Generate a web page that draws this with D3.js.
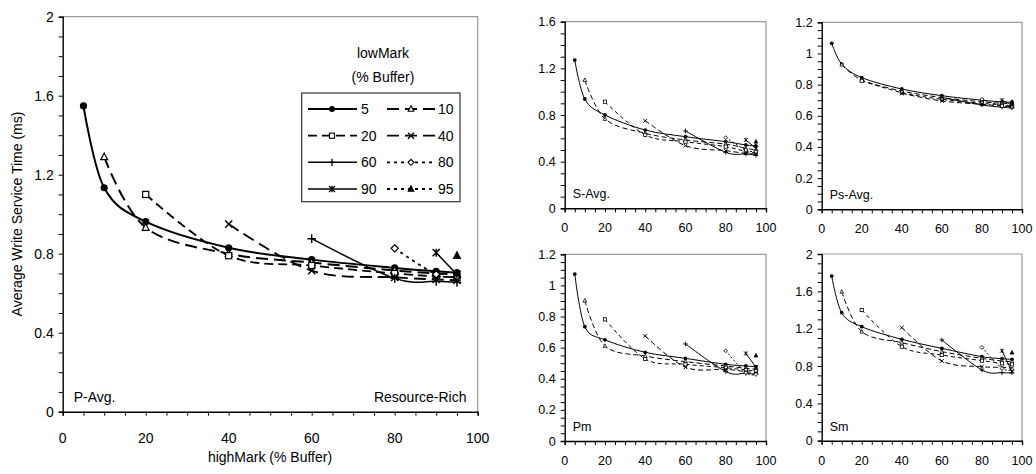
<!DOCTYPE html>
<html>
<head>
<meta charset="utf-8">
<script src="https://cdn.jsdelivr.net/npm/d3@7"></script>
<style>
  html, body { margin: 0; padding: 0; background: #fff; }
  svg { display: block; font-family: "Liberation Sans", Arial, Helvetica, sans-serif; }
  text { fill: #000; }
</style>
</head>
<body>
<svg id="chart" width="1036" height="474"></svg>
<script>
// highMark positions (% buffer) and lowMark series labels
const highMarks = [5, 10, 20, 40, 60, 80, 90, 95];
const lowMarks = [5, 10, 20, 40, 60, 80, 90, 95];

// Average write service time (ms); series i starts at highMarks[i]
const pAvg = [
  [1.548, 1.134, 0.962, 0.830, 0.770, 0.728, 0.711, 0.704],
  [1.290, 0.932, 0.800, 0.755, 0.715, 0.700, 0.695],
  [1.100, 0.790, 0.740, 0.700, 0.685, 0.680],
  [0.950, 0.714, 0.680, 0.670, 0.665],
  [0.876, 0.675, 0.660, 0.655],
  [0.827, 0.695, 0.685],
  [0.805, 0.695],
  [0.790]
];
const sAvg = [
  [1.271, 0.937, 0.800, 0.671, 0.614, 0.571, 0.543, 0.534],
  [1.100, 0.766, 0.643, 0.586, 0.550, 0.514, 0.500],
  [0.914, 0.629, 0.571, 0.529, 0.486, 0.477],
  [0.751, 0.537, 0.494, 0.471, 0.466],
  [0.663, 0.480, 0.466, 0.454],
  [0.606, 0.500, 0.486],
  [0.586, 0.514],
  [0.571]
];
const psAvg = [
  [1.065, 0.932, 0.845, 0.772, 0.729, 0.700, 0.690, 0.687],
  [0.928, 0.830, 0.759, 0.717, 0.690, 0.680, 0.676],
  [0.824, 0.749, 0.706, 0.680, 0.670, 0.665],
  [0.744, 0.695, 0.674, 0.663, 0.659],
  [0.717, 0.670, 0.655, 0.650],
  [0.706, 0.663, 0.659],
  [0.700, 0.670],
  [0.690]
];
const pm = [
  [1.073, 0.735, 0.650, 0.570, 0.531, 0.493, 0.482, 0.478],
  [0.902, 0.611, 0.546, 0.510, 0.482, 0.467, 0.461],
  [0.782, 0.527, 0.493, 0.471, 0.456, 0.450],
  [0.675, 0.474, 0.461, 0.446, 0.439],
  [0.624, 0.446, 0.435, 0.431],
  [0.580, 0.439, 0.428],
  [0.563, 0.474],
  [0.549]
];
const sm = [
  [1.764, 1.371, 1.221, 1.086, 0.989, 0.900, 0.879, 0.871],
  [1.596, 1.168, 1.050, 0.954, 0.882, 0.854, 0.846],
  [1.400, 1.007, 0.918, 0.857, 0.829, 0.818],
  [1.211, 0.854, 0.793, 0.786, 0.775],
  [1.079, 0.757, 0.729, 0.729],
  [1.000, 0.775, 0.764],
  [0.964, 0.739],
  [0.943]
];

// Tick label sets
const xTickLabels = [0, 20, 40, 60, 80, 100];
const pAvgYTicks = [0, 0.4, 0.8, 1.2, 1.6, 2];
const sAvgYTicks = [0, 0.4, 0.8, 1.2, 1.6];
const psAvgYTicks = [0, 0.2, 0.4, 0.6, 0.8, 1, 1.2];
const pmYTicks = [0, 0.2, 0.4, 0.6, 0.8, 1, 1.2];
const smYTicks = [0, 0.4, 0.8, 1.2, 1.6, 2];

// Per-series drawing style: marker shape, dash pattern (main, small), stroke width
const seriesStyle = [
  { marker: "circle",   dash: null,   dashS: null,  w: 2.0 },
  { marker: "triOpen",  dash: "12,6", dashS: "5,3", w: 2.0 },
  { marker: "square",   dash: "9,5",  dashS: "4,3", w: 1.8 },
  { marker: "x",        dash: "12,6", dashS: "5,3", w: 1.8 },
  { marker: "plus",     dash: null,   dashS: null,  w: 1.5 },
  { marker: "diamond",  dash: "3,4",  dashS: "2,2", w: 1.8 },
  { marker: "asterisk", dash: null,   dashS: null,  w: 1.5 },
  { marker: "triFill",  dash: "3,4",  dashS: "2,2", w: 1.8 }
];

const svg = d3.select("#chart");

function drawMarker(g, type, cx, cy, r, sw) {
  const s = g.append("g").attr("transform", `translate(${cx},${cy})`);
  switch (type) {
    case "circle":
      s.append("circle").attr("r", r).attr("fill", "#000");
      break;
    case "triOpen":
    case "triFill":
      s.append("path")
        .attr("d", `M0,${-r * 1.1}L${r * 0.95},${r * 0.75}L${-r * 0.95},${r * 0.75}Z`)
        .attr("fill", type === "triFill" ? "#000" : "#fff")
        .attr("stroke", "#000").attr("stroke-width", sw);
      break;
    case "square":
      s.append("rect").attr("x", -r * 0.85).attr("y", -r * 0.85)
        .attr("width", r * 1.7).attr("height", r * 1.7)
        .attr("fill", "#fff").attr("stroke", "#000").attr("stroke-width", sw);
      break;
    case "diamond":
      s.append("path").attr("d", `M0,${-r}L${r},0L0,${r}L${-r},0Z`)
        .attr("fill", "#fff").attr("stroke", "#000").attr("stroke-width", sw);
      break;
    case "x":
      s.append("path").attr("d", `M${-r},${-r}L${r},${r}M${-r},${r}L${r},${-r}`)
        .attr("stroke", "#000").attr("stroke-width", sw * 1.2);
      break;
    case "plus":
      s.append("path").attr("d", `M${-r * 1.2},0L${r * 1.2},0M0,${-r * 1.2}L0,${r * 1.2}`)
        .attr("stroke", "#000").attr("stroke-width", sw * 1.2);
      break;
    case "asterisk":
      s.append("path")
        .attr("d", `M${-r},${-r}L${r},${r}M${-r},${r}L${r},${-r}M0,${-r * 1.1}L0,${r * 1.1}`)
        .attr("stroke", "#000").attr("stroke-width", sw * 1.2);
      break;
  }
}

function panel(opts) {
  const { x0, x1, yTop, yBot, yMax, yTicks, minorY, data, label, big, fontSize } = opts;
  const x = d3.scaleLinear().domain([0, 100]).range([x0, x1]);
  const y = d3.scaleLinear().domain([0, yMax]).range([yBot, yTop]);
  const g = svg.append("g");

  // Plot frame (top and right in grey)
  g.append("path")
    .attr("d", `M${x0},${yTop}H${x1}V${yBot}`)
    .attr("fill", "none").attr("stroke", "#9a9a9a").attr("stroke-width", 1.2);

  // Axes with minor ticks every 5 on x and every minorY on y
  const xMinor = d3.range(0, 100.001, 5);
  const yMinor = d3.range(0, yMax + 1e-6, minorY);
  const xAxis = d3.axisBottom(x).tickValues(xMinor).tickSize(4).tickFormat("");
  const yAxis = d3.axisLeft(y).tickValues(yMinor).tickSize(4).tickFormat("");
  const gx = g.append("g").attr("transform", `translate(0,${yBot})`).call(xAxis);
  const gy = g.append("g").attr("transform", `translate(${x0},0)`).call(yAxis);
  [gx, gy].forEach(a => {
    a.select(".domain").attr("stroke", "#000").attr("stroke-width", 1.4);
    a.selectAll(".tick line").attr("stroke", "#000").attr("stroke-width", 1);
  });

  // Tick labels
  g.selectAll(".xl").data(xTickLabels).join("text")
    .attr("x", d => x(d)).attr("y", yBot + (big ? 31 : 24))
    .attr("text-anchor", "middle").attr("font-size", fontSize).text(d => d);
  g.selectAll(".yl").data(yTicks).join("text")
    .attr("x", x0 - 9).attr("y", d => y(d) + fontSize * 0.36)
    .attr("text-anchor", "end").attr("font-size", fontSize).text(d => d3.format("~g")(d));

  // Series (smoothed lines)
  const line = d3.line()
    .x(d => x(d[0])).y(d => y(d[1]))
    .curve(d3.curveCatmullRom.alpha(0));
  data.forEach((vals, i) => {
    const st = seriesStyle[i];
    const pts = vals.map((v, k) => [highMarks[i + k], v]);
    const lw = big ? st.w : 1;
    if (pts.length > 1) {
      g.append("path").datum(pts)
        .attr("d", line)
        .attr("fill", "none").attr("stroke", "#000")
        .attr("stroke-width", lw)
        .attr("stroke-dasharray", big ? st.dash : st.dashS);
    }
    pts.forEach(p => drawMarker(g, st.marker, x(p[0]), y(p[1]), big ? 3.6 : 1.9, big ? 1.2 : 0.8));
  });

  // Panel label
  g.append("text").attr("x", x0 + (big ? 11 : 8)).attr("y", yBot - 10)
    .attr("font-size", fontSize).text(label);

  return { g, x, y };
}

// Main panel
const main = panel({
  x0: 62.7, x1: 477.7, yTop: 16.7, yBot: 411.7, yMax: 2,
  yTicks: pAvgYTicks, minorY: 0.1, data: pAvg, label: "P-Avg.", big: true, fontSize: 14
});

main.g.append("text").attr("x", 466.5).attr("y", 401.7)
  .attr("text-anchor", "end").attr("font-size", 14).text("Resource-Rich");

main.g.append("text").attr("x", 270).attr("y", 462)
  .attr("text-anchor", "middle").attr("font-size", 14).text("highMark (% Buffer)");

main.g.append("text")
  .attr("transform", "translate(22,214) rotate(-90)")
  .attr("text-anchor", "middle").attr("font-size", 14).text("Average Write Service Time (ms)");

// Legend
const lg = main.g.append("g");
lg.append("text").attr("x", 383).attr("y", 58).attr("text-anchor", "middle")
  .attr("font-size", 14).text("lowMark");
lg.append("text").attr("x", 383).attr("y", 82).attr("text-anchor", "middle")
  .attr("font-size", 14).text("(% Buffer)");
lg.append("rect").attr("x", 301.7).attr("y", 93).attr("width", 158.3).attr("height", 108.7)
  .attr("fill", "#fff").attr("stroke", "#333").attr("stroke-width", 1.2);

const legendRows = [109, 135.7, 162.3, 189];
const legendCols = [{ l0: 308, l1: 357, m: 332, t: 361 }, { l0: 387, l1: 435, m: 411, t: 438 }];
lowMarks.forEach((lm, i) => {
  const row = legendRows[Math.floor(i / 2)];
  const col = legendCols[i % 2];
  const st = seriesStyle[i];
  lg.append("line").attr("x1", col.l0).attr("x2", col.l1).attr("y1", row).attr("y2", row)
    .attr("stroke", "#000").attr("stroke-width", st.w)
    .attr("stroke-dasharray", st.dash);
  drawMarker(lg, st.marker, col.m, row, 3, 1.1);
  lg.append("text").attr("x", col.t).attr("y", row + 5).attr("font-size", 14).text(lm);
});

// Small panels
panel({ x0: 564.7, x1: 766, yTop: 21.7, yBot: 208.3, yMax: 1.6, yTicks: sAvgYTicks,
  minorY: 0.1, data: sAvg, label: "S-Avg.", big: false, fontSize: 12.5 });
panel({ x0: 821.7, x1: 1022, yTop: 22.3, yBot: 209.3, yMax: 1.2, yTicks: psAvgYTicks,
  minorY: 0.05, data: psAvg, label: "Ps-Avg.", big: false, fontSize: 12.5 });
panel({ x0: 564.7, x1: 766, yTop: 254.3, yBot: 441, yMax: 1.2, yTicks: pmYTicks,
  minorY: 0.05, data: pm, label: "Pm", big: false, fontSize: 12.5 });
panel({ x0: 821.7, x1: 1022, yTop: 254, yBot: 440.7, yMax: 2, yTicks: smYTicks,
  minorY: 0.1, data: sm, label: "Sm", big: false, fontSize: 12.5 });
</script>
</body>
</html>
